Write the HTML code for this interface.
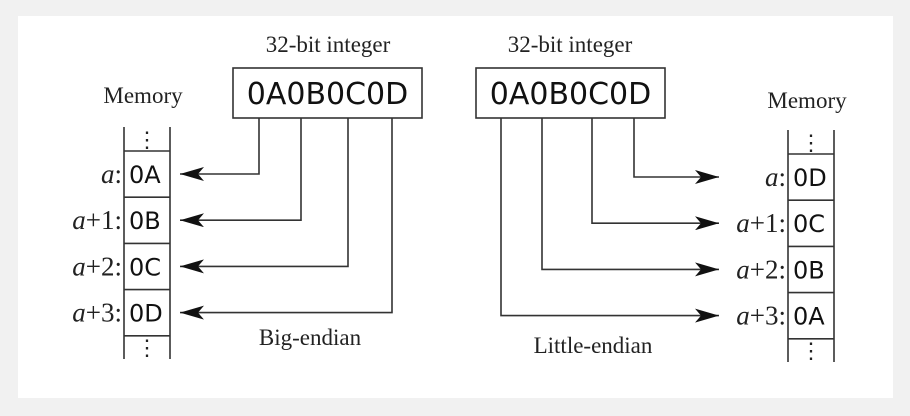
<!DOCTYPE html>
<html><head><meta charset="utf-8"><style>
html,body{margin:0;padding:0;width:910px;height:416px;background:#f1f1f1;overflow:hidden}
svg{display:block}
.serif{font-family:"Liberation Serif",serif;fill:#222}
.mono{font-family:"DejaVu Sans","Liberation Sans",sans-serif;fill:#111}
</style></head><body>
<svg width="910" height="416" viewBox="0 0 910 416">
<defs><marker id="ah" markerWidth="26" markerHeight="14" refX="24" refY="7" orient="auto" markerUnits="userSpaceOnUse"><path d="M0,0 L24,7 L0,14 L6,7 Z" fill="#111"/></marker></defs>
<rect x="18" y="16" width="875" height="382" fill="#fff"/>
<g id="g" stroke="#333" stroke-width="1.6" fill="none"></g>
<g id="t"></g>
</svg>
<script>
const bytesBig=["0A","0B","0C","0D"];
const bytesLittle=["0D","0C","0B","0A"];
const addrLabels=["a:","a+1:","a+2:","a+3:"];
const NS="http://www.w3.org/2000/svg";
const g=document.getElementById('g'),t=document.getElementById('t');
function el(p,tag,a,txt){const e=document.createElementNS(NS,tag);for(const k in a)e.setAttribute(k,a[k]);if(txt!=null)e.textContent=txt;p.appendChild(e);return e;}
function text(x,y,s,cls,size,anchor,name){const e=el(t,'text',{x:x,y:y,class:cls,'font-size':size,'text-anchor':anchor||'middle'},s);

return e;}
function addrText(x,y,lbl,name){const e=el(t,'text',{x:x,y:y,class:'serif','font-size':27,'text-anchor':'end'});


const m=lbl.match(/^a(.*)$/);el(e,'tspan',{'font-style':'italic'},'a');el(e,'tspan',{},m[1]);}
function side(o){
 text(o.titleX,52,"32-bit integer","serif",23,'middle',o.p+'-integer-title');
 const b=el(g,'rect',{x:o.bx,y:68,width:189,height:50,'stroke-width':1.6});
 
 
 text(o.bx+94.5,104,"0A0B0C0D","mono",30,'middle',o.p+'-integer-value');
 text(o.memX,o.memY,"Memory","serif",23,'middle',o.p+'-memory-title');
 el(g,'line',{x1:o.cx1,y1:o.top,x2:o.cx1,y2:o.top+232});
 el(g,'line',{x1:o.cx2,y1:o.top,x2:o.cx2,y2:o.top+232});
 for(let i=0;i<5;i++){const y=o.top+24+i*46.2;el(g,'line',{x1:o.cx1,y1:y,x2:o.cx2,y2:y});}
 text((o.cx1+o.cx2)/2,o.top+20,"⋮","serif",22,'middle',o.p+'-ellipsis-top');
 text((o.cx1+o.cx2)/2,o.top+228,"⋮","serif",22,'middle',o.p+'-ellipsis-bottom');
 o.bytes.forEach((v,i)=>{
  const cy=o.top+47+i*46.2;
  text(o.cx1+5,cy+9,v,"mono",24,'start',o.p+'-cell-'+i);
  addrText(o.cx1-2,cy+9,addrLabels[i],o.p+'-address-'+i);
  const lx=o.conX[i],hy=cy;
  const pth=el(g,'path',{d:`M${lx},118 L${lx},${hy} L${o.tipX},${hy}`,'marker-end':'url(#ah)'});
  
  
 });
 text(o.capX,o.capY,o.cap,"serif",23,'middle',o.p+'-caption');
}
side({p:'big',titleX:328,bx:233,memX:143,memY:103,cx1:124,cx2:170,top:127,bytes:bytesBig,conX:[259,301,348,392],tipX:180,cap:"Big-endian",capX:310,capY:345});
side({p:'little',titleX:570,bx:476,memX:807,memY:108,cx1:788,cx2:834,top:130,bytes:bytesLittle,conX:[634,592,542,501],tipX:719,cap:"Little-endian",capX:593,capY:353});
</script>
</body></html>
